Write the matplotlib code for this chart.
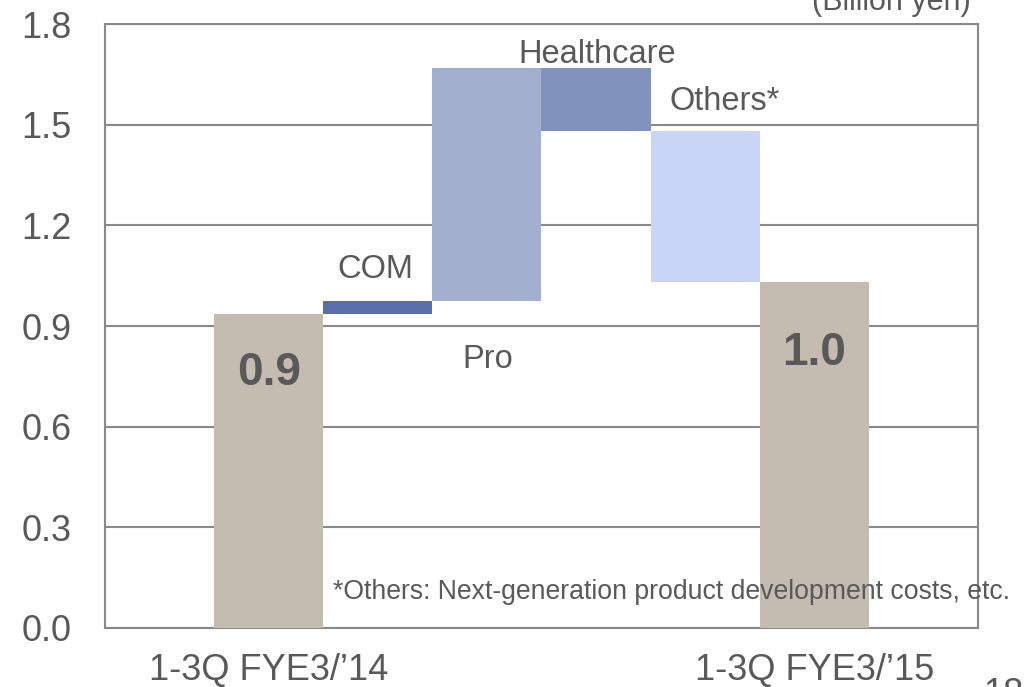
import numpy as np
import matplotlib.pyplot as plt

plt.rcParams['font.family'] = ['Liberation Sans', 'DejaVu Sans']

steps = ['1-3Q FYE3/\u201914', 'COM', 'Pro', 'Healthcare', 'Others*', '1-3Q FYE3/\u201915']
start_total = 0.935
changes = [0.04, 0.695, -0.19, -0.45]
end_total = 1.03
colors = ['#C5BCB1', '#5A6FAA', '#A2AFCF', '#8192BD', '#C8D5F7', '#C5BCB1']
text_col = '#595959'
grid_col = '#898989'

# waterfall bottoms / heights
bottoms = [0.0]
heights = [start_total]
level = start_total
for c in changes:
    bottoms.append(min(level, level + c))
    heights.append(abs(c))
    level += c
bottoms.append(0.0)
heights.append(end_total)

fig = plt.figure(figsize=(10.27, 6.87), dpi=100)
ax = fig.add_axes([0.1022, 0.0859, 0.85, 0.879])

x = np.arange(1, 7)
ax.bar(x, heights, bottom=bottoms, width=1.0, align='edge', color=colors, zorder=3)

ax.set_xlim(0, 8)
ax.set_ylim(0, 1.8)
ax.set_yticks(np.arange(0, 1.81, 0.3))
ax.set_yticklabels(['%.1f' % v for v in np.arange(0, 1.81, 0.3)])
ax.set_xticks([1.5, 6.5])
ax.set_xticklabels([steps[0], steps[5]])
ax.tick_params(axis='both', length=0, labelsize=26, colors=text_col)
ax.tick_params(axis='y', pad=24)
ax.tick_params(axis='x', pad=18)
ax.yaxis.grid(True, color=grid_col, linewidth=1.5, zorder=0)
ax.set_axisbelow(True)
for s in ax.spines.values():
    s.set_color(grid_col)
    s.set_linewidth(1.5)

# step labels
ax.text(2.48, 1.07, 'COM', ha='center', va='center', fontsize=23.5, color=text_col)
ax.text(3.51, 0.80, 'Pro', ha='center', va='center', fontsize=23.5, color=text_col)
ax.text(4.51, 1.71, 'Healthcare', ha='center', va='center', fontsize=23.5, color=text_col)
ax.text(5.68, 1.57, 'Others*', ha='center', va='center', fontsize=23.5, color=text_col)

# totals
ax.text(1.5, 0.76, '%.1f' % start_total, ha='center', va='center', fontsize=33,
        fontweight='bold', color=text_col, zorder=4)
ax.text(6.5, 0.82, '%.1f' % end_total, ha='center', va='center', fontsize=33,
        fontweight='bold', color=text_col, zorder=4)

# footnote
ax.text(2.09, 0.107, '*Others: Next-generation product development costs, etc.',
        ha='left', va='center', fontsize=19.2, color=text_col, zorder=4)

fig.text(0.945, 1 - 10 / 687, '(Billion yen)', ha='right', va='baseline',
         fontsize=22, color=text_col)
fig.text(0.957, 1 - 704 / 687, '18', ha='left', va='baseline', fontsize=26, color=text_col)

fig.savefig('out.png', dpi=100)
